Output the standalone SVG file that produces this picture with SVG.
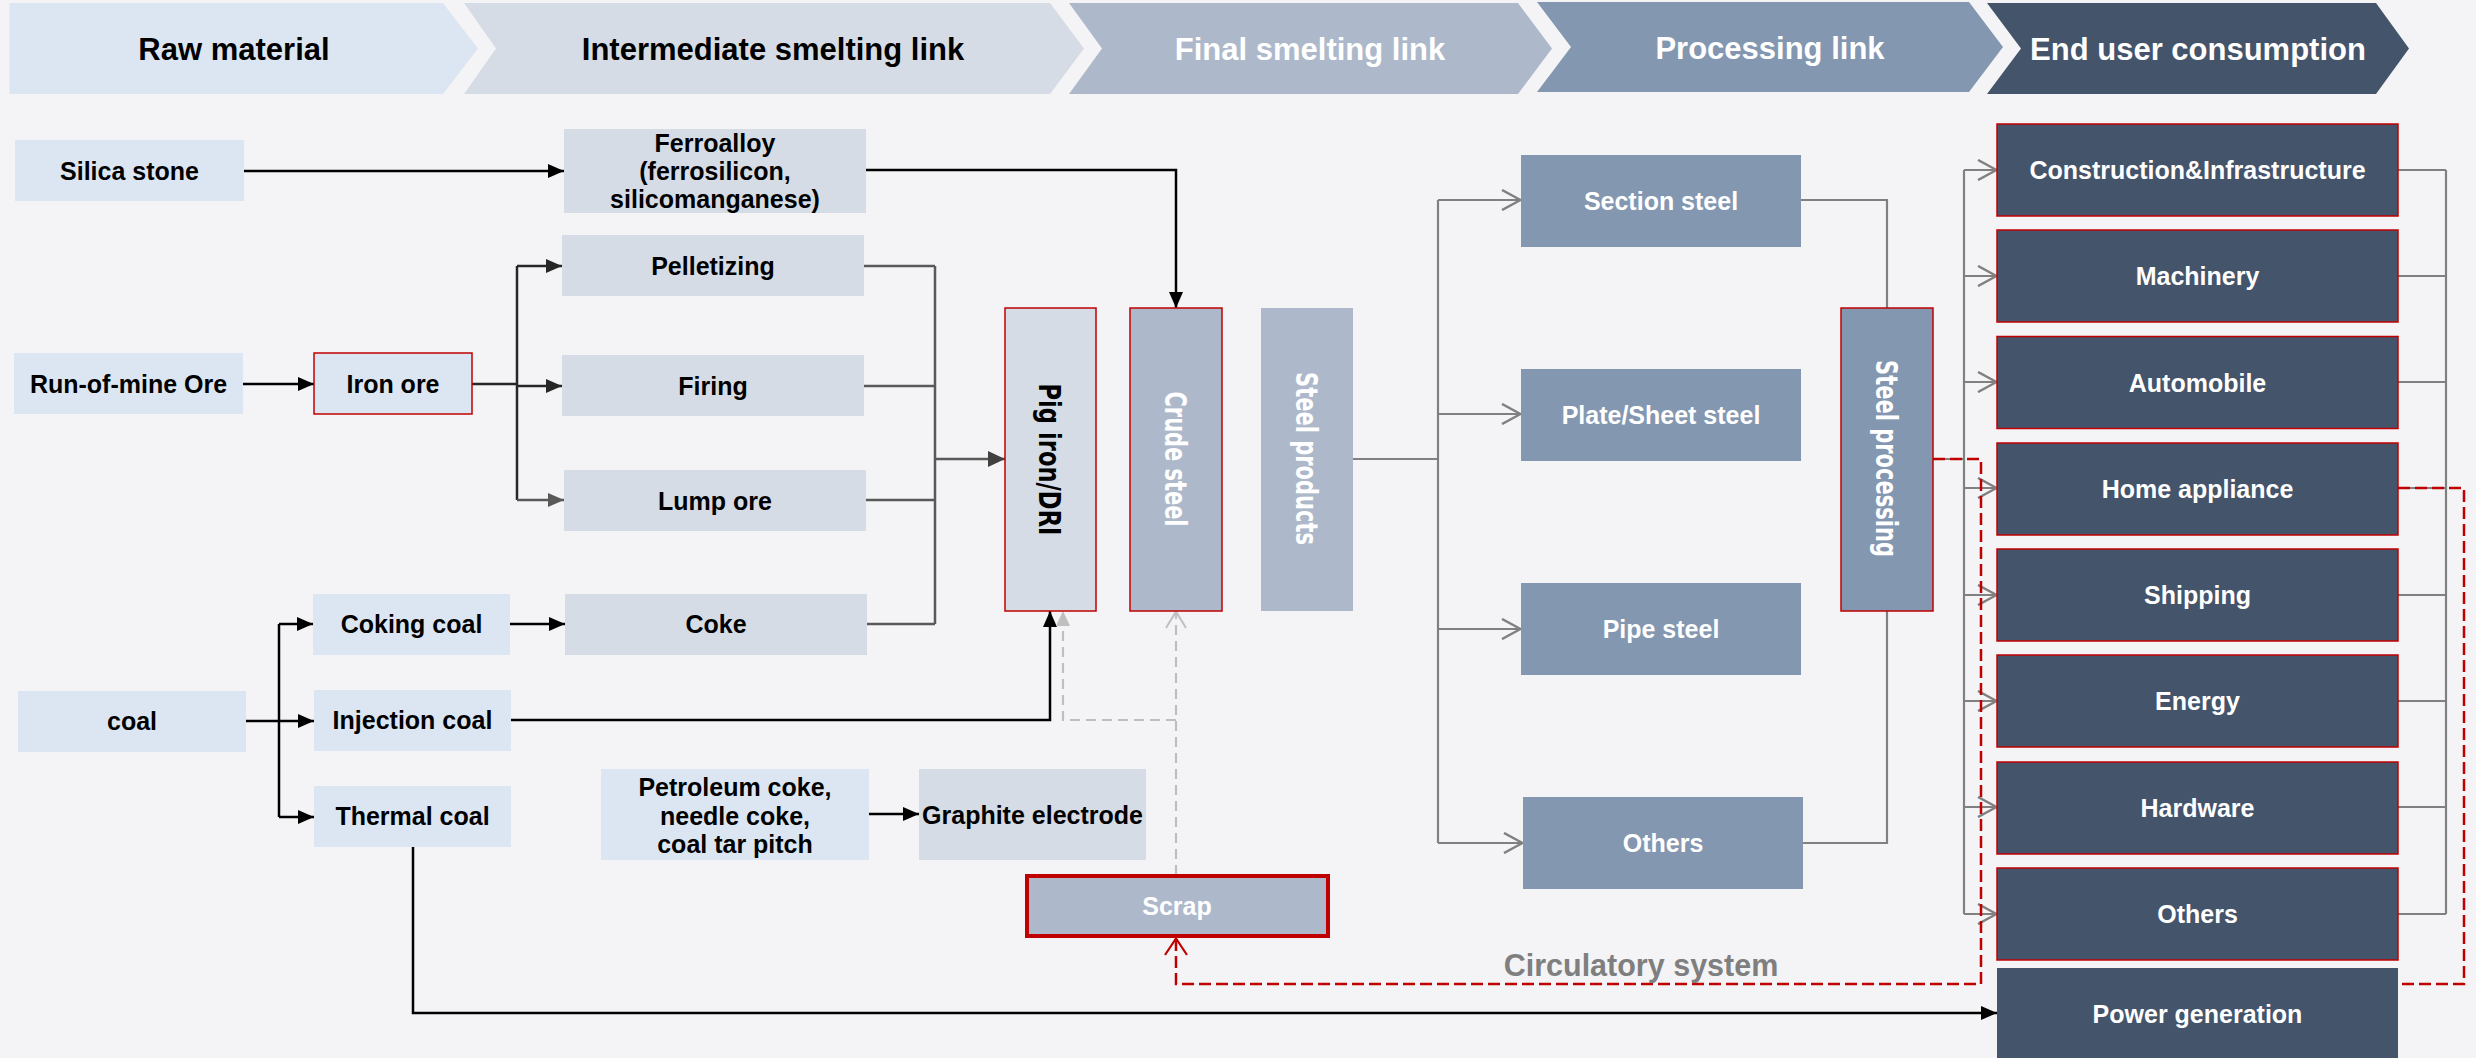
<svg xmlns="http://www.w3.org/2000/svg" width="2476" height="1058" viewBox="0 0 2476 1058">
<style>
.t{font-family:"Liberation Sans",Arial,sans-serif;font-weight:bold;font-size:25px;text-anchor:middle}
.h{font-size:31px}
.cir{font-size:30.5px;fill:#7f7f7f}
.v{font-family:"DejaVu Sans",Verdana,sans-serif;font-weight:bold;font-size:30px;text-anchor:middle}
.k{fill:#000}
.w{fill:#fff}
.lb{fill:#dce6f2}
.lg{fill:#d6dce5}
.md{fill:#adb9ca}
.sb{fill:#8497b0}
.dk{fill:#44546a}
.rs{stroke:#c00000;stroke-width:1.5}
#connectors path{fill:none}
.cb{stroke:#000;stroke-width:2.5}
.ci{stroke:#262626;stroke-width:2.5}
.cl{stroke:#595959;stroke-width:2.5}
.cm{stroke:#595959;stroke-width:2.5}
.cg{stroke:#808080;stroke-width:2.2}
.cs{stroke:#bfbfbf;stroke-width:2.2;stroke-dasharray:10 6}
.cr{stroke:#c00000;stroke-width:2.5;stroke-dasharray:12 5}
</style>
<defs>
<marker id="mb" markerUnits="userSpaceOnUse" viewBox="0 0 16 14" markerWidth="16" markerHeight="14" refX="16" refY="7" orient="auto"><path d="M0,0L16,7L0,14z" fill="#000"/></marker>
<marker id="mi" markerUnits="userSpaceOnUse" viewBox="0 0 16 14" markerWidth="16" markerHeight="14" refX="16" refY="7" orient="auto"><path d="M0,0L16,7L0,14z" fill="#262626"/></marker>
<marker id="ml" markerUnits="userSpaceOnUse" viewBox="0 0 16 14" markerWidth="16" markerHeight="14" refX="16" refY="7" orient="auto"><path d="M0,0L16,7L0,14z" fill="#595959"/></marker>
<marker id="md" markerUnits="userSpaceOnUse" viewBox="0 0 17 16" markerWidth="17" markerHeight="16" refX="17" refY="8" orient="auto"><path d="M0,0L17,8L0,16z" fill="#404040"/></marker>
<marker id="mf" markerUnits="userSpaceOnUse" viewBox="0 0 15 14" markerWidth="15" markerHeight="14" refX="15" refY="7" orient="auto"><path d="M0,0L15,7L0,14z" fill="#bfbfbf"/></marker>
<marker id="mo" markerUnits="userSpaceOnUse" viewBox="0 0 21 22" markerWidth="21" markerHeight="22" refX="20" refY="11" orient="auto"><path d="M1,1L19.5,11L1,21" fill="none" stroke="#808080" stroke-width="2.5"/></marker>
<marker id="ms" markerUnits="userSpaceOnUse" viewBox="0 0 19 22" markerWidth="19" markerHeight="22" refX="18" refY="11" orient="auto"><path d="M1,1L17.5,11L1,21" fill="none" stroke="#bfbfbf" stroke-width="2"/></marker>
<marker id="mr" markerUnits="userSpaceOnUse" viewBox="0 0 19 24" markerWidth="19" markerHeight="24" refX="18" refY="12" orient="auto"><path d="M1,1L17.5,12L1,23" fill="none" stroke="#c00000" stroke-width="2.2"/></marker>
</defs>
<rect x="0" y="0" width="2476" height="1058" fill="#f4f4f6"/>

<g id="header">
<g id="stage-raw"><polygon points="9.5,3 443,3 478,48.5 443,94 9.5,94" fill="#dce6f2"/><text class="t h k" x="234" y="60">Raw material</text></g>
<g id="stage-intermediate"><polygon points="464,3 1050,3 1084,48.5 1050,94 464,94 496,48.5" fill="#d6dce5"/><text class="t h k" x="773" y="60">Intermediate smelting link</text></g>
<g id="stage-final"><polygon points="1069,3 1518,3 1552,48.5 1518,94 1069,94 1102,48.5" fill="#adb9ca"/><text class="t h w" x="1310" y="60">Final smelting link</text></g>
<g id="stage-processing"><polygon points="1537,2 1969,2 2003,47 1969,92 1537,92 1571,47" fill="#8497b0"/><text class="t h w" x="1770" y="59">Processing link</text></g>
<g id="stage-end"><polygon points="1987,3 2376,3 2409,48.5 2376,94 1987,94 2021,48.5" fill="#44546a"/><text class="t h w" x="2198" y="60">End user consumption</text></g>
</g>

<g id="connectors">
<path class="cb" d="M244,171H564" marker-end="url(#mb)"/>
<path class="cb" d="M243,384H314" marker-end="url(#mb)"/>
<path class="ci" d="M472,384H517"/>
<path class="ci" d="M517,266V500"/>
<path class="ci" d="M517,266H562" marker-end="url(#mi)"/>
<path class="ci" d="M517,386H562" marker-end="url(#mi)"/>
<path class="cl" d="M517,500H564" marker-end="url(#ml)"/>
<path class="cb" d="M246,721H279"/>
<path class="cb" d="M279,624V817"/>
<path class="cb" d="M279,624H313" marker-end="url(#mb)"/>
<path class="cb" d="M279,721H314" marker-end="url(#mb)"/>
<path class="cb" d="M279,817H314" marker-end="url(#mb)"/>
<path class="cb" d="M510,624H565" marker-end="url(#mb)"/>
<path class="cb" d="M869,814H919" marker-end="url(#mb)"/>
<path class="cb" d="M866,170H1176V308" marker-end="url(#mb)"/>
<path class="cm" d="M864,266H935M864,386H935M866,500H935M867,624H935M935,266V624"/>
<path class="cm" d="M935,459H1005" stroke-width="3" marker-end="url(#md)"/>
<path class="cb" d="M511,720H1050V611" marker-end="url(#mb)"/>
<path class="cb" d="M413,847V1013H1997" marker-end="url(#mb)"/>
<path class="cs" d="M1176,875V611" marker-end="url(#ms)"/>
<path class="cs" d="M1176,720H1063V611" marker-end="url(#mf)"/>
<path class="cg" d="M1353,459H1438M1438,200V843"/>
<path class="cg" d="M1438,200H1521" marker-end="url(#mo)"/>
<path class="cg" d="M1438,414H1521" marker-end="url(#mo)"/>
<path class="cg" d="M1438,629H1521" marker-end="url(#mo)"/>
<path class="cg" d="M1438,843H1523" marker-end="url(#mo)"/>
<path class="cg" d="M1800,200H1887V308"/>
<path class="cg" d="M1802,843H1887V611"/>
<path class="cg" d="M1933,459H1964M1964,170V914"/>
<path class="cg" d="M1964,170H1997" marker-end="url(#mo)"/>
<path class="cg" d="M1964,276H1997" marker-end="url(#mo)"/>
<path class="cg" d="M1964,382H1997" marker-end="url(#mo)"/>
<path class="cg" d="M1964,488H1997" marker-end="url(#mo)"/>
<path class="cg" d="M1964,595H1997" marker-end="url(#mo)"/>
<path class="cg" d="M1964,701H1997" marker-end="url(#mo)"/>
<path class="cg" d="M1964,807H1997" marker-end="url(#mo)"/>
<path class="cg" d="M1964,914H1997" marker-end="url(#mo)"/>
<path class="cg" d="M2398,170H2446M2398,276H2446M2398,382H2446M2398,488H2446M2398,595H2446M2398,701H2446M2398,807H2446M2398,914H2446M2446,170V914"/>
<path class="cr" d="M1933,459H1981V984H1176V938" marker-end="url(#mr)"/>
<path class="cr" d="M2398,488H2464V984H2398"/>
</g>

<g id="n-silica"><rect class="lb" x="15" y="140" width="229" height="61"/><text class="t k" x="129.5" y="180">Silica stone</text></g>
<g id="n-rom"><rect class="lb" x="14" y="353" width="229" height="61"/><text class="t k" x="128.5" y="393">Run-of-mine Ore</text></g>
<g id="n-ironore"><rect class="lb rs" x="314" y="353" width="158" height="61"/><text class="t k" x="393" y="393">Iron ore</text></g>
<g id="n-coal"><rect class="lb" x="18" y="691" width="228" height="61"/><text class="t k" x="132" y="730">coal</text></g>
<g id="n-coking"><rect class="lb" x="313" y="594" width="197" height="61"/><text class="t k" x="411.5" y="633">Coking coal</text></g>
<g id="n-injection"><rect class="lb" x="314" y="690" width="197" height="61"/><text class="t k" x="412.5" y="729">Injection coal</text></g>
<g id="n-thermal"><rect class="lb" x="314" y="786" width="197" height="61"/><text class="t k" x="412.5" y="825">Thermal coal</text></g>
<g id="n-ferroalloy"><rect class="lg" x="564" y="129" width="302" height="84"/><text class="t k" x="715" y="152">Ferroalloy</text><text class="t k" x="715" y="180">(ferrosilicon,</text><text class="t k" x="715" y="208">silicomanganese)</text></g>
<g id="n-pelletizing"><rect class="lg" x="562" y="235" width="302" height="61"/><text class="t k" x="713" y="275">Pelletizing</text></g>
<g id="n-firing"><rect class="lg" x="562" y="355" width="302" height="61"/><text class="t k" x="713" y="395">Firing</text></g>
<g id="n-lump"><rect class="lg" x="564" y="470" width="302" height="61"/><text class="t k" x="715" y="510">Lump ore</text></g>
<g id="n-coke"><rect class="lg" x="565" y="594" width="302" height="61"/><text class="t k" x="716" y="633">Coke</text></g>
<g id="n-petroleum"><rect class="lb" x="601" y="769" width="268" height="91"/><text class="t k" x="735" y="796">Petroleum coke,</text><text class="t k" x="735" y="825">needle coke,</text><text class="t k" x="735" y="853">coal tar pitch</text></g>
<g id="n-graphite"><rect class="lg" x="919" y="769" width="227" height="91"/><text class="t k" x="1032.5" y="823.5">Graphite electrode</text></g>
<g id="n-pig"><rect class="lg rs" x="1005" y="308" width="91" height="303"/><text class="v k" x="1050" y="470.5" textLength="152" lengthAdjust="spacingAndGlyphs" transform="rotate(90 1050 459.5)">Pig iron/DRI</text></g>
<g id="n-crude"><rect class="md rs" x="1130" y="308" width="92" height="303"/><text class="v w" x="1176" y="470" textLength="135" lengthAdjust="spacingAndGlyphs" transform="rotate(90 1176 459)">Crude steel</text></g>
<g id="n-products"><rect class="md" x="1261" y="308" width="92" height="303"/><text class="v w" x="1307" y="469.5" textLength="173" lengthAdjust="spacingAndGlyphs" transform="rotate(90 1307 458.5)">Steel products</text></g>
<g id="n-scrap"><rect class="md" x="1027" y="876" width="301" height="60" stroke="#c00000" stroke-width="4"/><text class="t w" x="1177" y="915">Scrap</text></g>
<g id="n-section"><rect class="sb" x="1521" y="155" width="280" height="92"/><text class="t w" x="1661" y="210">Section steel</text></g>
<g id="n-plate"><rect class="sb" x="1521" y="369" width="280" height="92"/><text class="t w" x="1661" y="424">Plate/Sheet steel</text></g>
<g id="n-pipe"><rect class="sb" x="1521" y="583" width="280" height="92"/><text class="t w" x="1661" y="638">Pipe steel</text></g>
<g id="n-others-steel"><rect class="sb" x="1523" y="797" width="280" height="92"/><text class="t w" x="1663" y="852">Others</text></g>
<g id="n-processing"><rect class="sb rs" x="1841" y="308" width="92" height="303"/><text class="v w" x="1887" y="469.5" textLength="197" lengthAdjust="spacingAndGlyphs" transform="rotate(90 1887 458.5)">Steel processing</text></g>
<g id="n-construction"><rect class="dk rs" x="1997" y="124" width="401" height="92"/><text class="t w" x="2197.5" y="179">Construction&amp;Infrastructure</text></g>
<g id="n-machinery"><rect class="dk rs" x="1997" y="230" width="401" height="92"/><text class="t w" x="2197.5" y="285">Machinery</text></g>
<g id="n-automobile"><rect class="dk rs" x="1997" y="336.5" width="401" height="92"/><text class="t w" x="2197.5" y="391.5">Automobile</text></g>
<g id="n-home"><rect class="dk rs" x="1997" y="443" width="401" height="92"/><text class="t w" x="2197.5" y="498">Home appliance</text></g>
<g id="n-shipping"><rect class="dk rs" x="1997" y="549" width="401" height="92"/><text class="t w" x="2197.5" y="604">Shipping</text></g>
<g id="n-energy"><rect class="dk rs" x="1997" y="655" width="401" height="92"/><text class="t w" x="2197.5" y="710">Energy</text></g>
<g id="n-hardware"><rect class="dk rs" x="1997" y="762" width="401" height="92"/><text class="t w" x="2197.5" y="817">Hardware</text></g>
<g id="n-others-end"><rect class="dk rs" x="1997" y="868" width="401" height="92"/><text class="t w" x="2197.5" y="923">Others</text></g>
<g id="n-power"><rect class="dk" x="1997" y="968" width="401" height="92"/><text class="t w" x="2197.5" y="1023">Power generation</text></g>
<g id="label-circulatory"><text class="t cir" x="1641" y="976">Circulatory system</text></g>
</svg>
